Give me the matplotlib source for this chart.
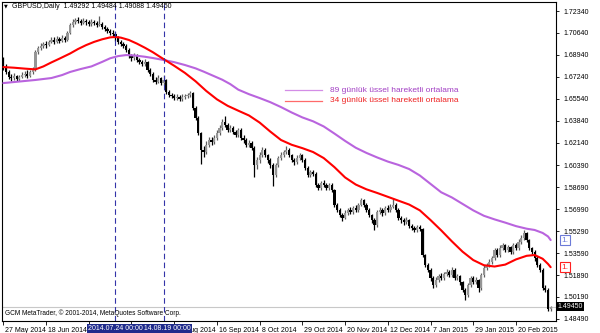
import numpy as np
import matplotlib
matplotlib.use('Agg')
import matplotlib.pyplot as plt
import matplotlib.transforms as mtransforms

plt.rcParams['font.family'] = ['Liberation Sans', 'DejaVu Sans']

# ---------- data ----------
symbol = 'GBPUSD,Daily'
header_quote = [1.49292, 1.49484, 1.49088, 1.49450]   # O H L C of last bar
first_open = 1.6815

close = [
    1.6800, 1.6761, 1.6722, 1.6715, 1.6730, 1.6707, 1.6722, 1.6738, 1.6746, 1.6730,
    1.6761, 1.6777, 1.6916, 1.6947, 1.6963, 1.6979, 1.6971, 1.6994, 1.7009, 1.6994,
    1.7017, 1.7002, 1.7025, 1.7009, 1.7064, 1.7126, 1.7149, 1.7164, 1.7157, 1.7141,
    1.7157, 1.7149, 1.7133, 1.7149, 1.7141, 1.7126, 1.7133, 1.7110, 1.7095, 1.7079,
    1.7064, 1.7056, 1.7025, 1.6994, 1.6979, 1.6963, 1.6932, 1.6885, 1.6870, 1.6893,
    1.6854, 1.6839, 1.6823, 1.6839, 1.6777, 1.6746, 1.6700, 1.6684, 1.6715, 1.6676,
    1.6700, 1.6607, 1.6583, 1.6576, 1.6560, 1.6568, 1.6552, 1.6568, 1.6576, 1.6583,
    1.6599, 1.6483, 1.6405, 1.6290, 1.6157, 1.6142, 1.6196, 1.6235, 1.6219, 1.6250,
    1.6289, 1.6328, 1.6374, 1.6351, 1.6312, 1.6328, 1.6297, 1.6274, 1.6312, 1.6250,
    1.6235, 1.6196, 1.6211, 1.6173, 1.6041, 1.6080, 1.6118, 1.6157, 1.6118, 1.6080,
    1.6041, 1.5963, 1.6041, 1.6095, 1.6118, 1.6142, 1.6157, 1.6118, 1.6080, 1.6064,
    1.6095, 1.6118, 1.6080, 1.6018, 1.5963, 1.5986, 1.5971, 1.5886, 1.5863, 1.5901,
    1.5886, 1.5863, 1.5886, 1.5847, 1.5731, 1.5692, 1.5654, 1.5630, 1.5669, 1.5692,
    1.5677, 1.5708, 1.5692, 1.5731, 1.5770, 1.5731, 1.5692, 1.5654, 1.5615, 1.5576,
    1.5677, 1.5692, 1.5669, 1.5708, 1.5692, 1.5716, 1.5731, 1.5692, 1.5630, 1.5615,
    1.5599, 1.5615, 1.5568, 1.5553, 1.5538, 1.5561, 1.5545, 1.5344, 1.5267, 1.5228,
    1.5166, 1.5111, 1.5150, 1.5181, 1.5166, 1.5197, 1.5212, 1.5189, 1.5228, 1.5166,
    1.5181, 1.5135, 1.5073, 1.5034, 1.5111, 1.5166, 1.5135, 1.5150, 1.5088, 1.5189,
    1.5243, 1.5267, 1.5290, 1.5321, 1.5383, 1.5344, 1.5398, 1.5421, 1.5383, 1.5406,
    1.5367, 1.5421, 1.5398, 1.5445, 1.5476, 1.5514, 1.5460, 1.5398, 1.5367, 1.5321,
    1.5267, 1.5228, 1.5088, 1.5073, 1.49292, 1.49450]

high = [
    1.6878, 1.6822, 1.6780, 1.6745, 1.6752, 1.6740, 1.6741, 1.6760, 1.6770, 1.6775,
    1.6780, 1.6800, 1.6930, 1.6965, 1.6985, 1.6995, 1.7000, 1.7012, 1.7035, 1.7030,
    1.7040, 1.7035, 1.7045, 1.7040, 1.7080, 1.7140, 1.7170, 1.7180, 1.7185, 1.7172,
    1.7180, 1.7175, 1.7165, 1.7170, 1.7168, 1.7155, 1.7192, 1.7150, 1.7125, 1.7110,
    1.7095, 1.7085, 1.7070, 1.7040, 1.7010, 1.6995, 1.6975, 1.6945, 1.6900, 1.6910,
    1.6905, 1.6870, 1.6855, 1.6860, 1.6850, 1.6790, 1.6760, 1.6720, 1.6735, 1.6725,
    1.6740, 1.6710, 1.6625, 1.6600, 1.6595, 1.6590, 1.6580, 1.6590, 1.6595, 1.6600,
    1.6615, 1.6605, 1.6495, 1.6420, 1.6300, 1.6190, 1.6225, 1.6255, 1.6260, 1.6275,
    1.6310, 1.6350, 1.6400, 1.6420, 1.6370, 1.6350, 1.6345, 1.6315, 1.6330, 1.6325,
    1.6270, 1.6250, 1.6235, 1.6225, 1.6185, 1.6100, 1.6140, 1.6180, 1.6170, 1.6130,
    1.6095, 1.6055, 1.6060, 1.6110, 1.6140, 1.6160, 1.6185, 1.6170, 1.6130, 1.6095,
    1.6115, 1.6135, 1.6130, 1.6095, 1.6030, 1.6005, 1.6000, 1.5985, 1.5900, 1.5920,
    1.5925, 1.5900, 1.5905, 1.5900, 1.5855, 1.5745, 1.5705, 1.5670, 1.5690, 1.5710,
    1.5715, 1.5725, 1.5730, 1.5750, 1.5785, 1.5780, 1.5745, 1.5705, 1.5665, 1.5630,
    1.5695, 1.5715, 1.5705, 1.5725, 1.5730, 1.5740, 1.5785, 1.5745, 1.5705, 1.5650,
    1.5630, 1.5635, 1.5625, 1.5585, 1.5570, 1.5580, 1.5575, 1.5555, 1.5355, 1.5280,
    1.5240, 1.5180, 1.5170, 1.5200, 1.5205, 1.5215, 1.5235, 1.5230, 1.5250, 1.5240,
    1.5200, 1.5190, 1.5145, 1.5090, 1.5130, 1.5185, 1.5180, 1.5170, 1.5160, 1.5205,
    1.5265, 1.5285, 1.5310, 1.5340, 1.5400, 1.5395, 1.5420, 1.5440, 1.5430, 1.5425,
    1.5415, 1.5440, 1.5435, 1.5465, 1.5500, 1.5540, 1.5525, 1.5470, 1.5410, 1.5380,
    1.5335, 1.5280, 1.5240, 1.5110, 1.5090, 1.49484]

low = [
    1.6777, 1.6745, 1.6705, 1.6695, 1.6700, 1.6690, 1.6693, 1.6712, 1.6725, 1.6718,
    1.6722, 1.6745, 1.6770, 1.6900, 1.6932, 1.6945, 1.6950, 1.6960, 1.6985, 1.6978,
    1.6985, 1.6990, 1.6992, 1.6995, 1.7000, 1.7055, 1.7110, 1.7135, 1.7140, 1.7125,
    1.7130, 1.7128, 1.7115, 1.7120, 1.7125, 1.7110, 1.7115, 1.7095, 1.7080, 1.7060,
    1.7045, 1.7035, 1.7005, 1.6980, 1.6960, 1.6945, 1.6915, 1.6870, 1.6850, 1.6855,
    1.6840, 1.6820, 1.6805, 1.6810, 1.6760, 1.6730, 1.6685, 1.6665, 1.6675, 1.6660,
    1.6660, 1.6592, 1.6570, 1.6560, 1.6545, 1.6545, 1.6535, 1.6540, 1.6555, 1.6560,
    1.6570, 1.6470, 1.6390, 1.6275, 1.6052, 1.6100, 1.6130, 1.6180, 1.6195, 1.6205,
    1.6235, 1.6270, 1.6310, 1.6335, 1.6295, 1.6300, 1.6280, 1.6255, 1.6260, 1.6235,
    1.6215, 1.6180, 1.6180, 1.6160, 1.5950, 1.6010, 1.6060, 1.6100, 1.6100, 1.6060,
    1.6020, 1.5875, 1.5945, 1.6025, 1.6080, 1.6100, 1.6125, 1.6100, 1.6065, 1.6040,
    1.6050, 1.6080, 1.6065, 1.6000, 1.5945, 1.5950, 1.5955, 1.5870, 1.5845, 1.5850,
    1.5870, 1.5845, 1.5850, 1.5830, 1.5715, 1.5675, 1.5640, 1.5610, 1.5620, 1.5655,
    1.5660, 1.5665, 1.5675, 1.5680, 1.5720, 1.5715, 1.5675, 1.5635, 1.5595, 1.5540,
    1.5565, 1.5660, 1.5650, 1.5655, 1.5675, 1.5680, 1.5705, 1.5675, 1.5615, 1.5595,
    1.5580, 1.5585, 1.5550, 1.5535, 1.5520, 1.5525, 1.5530, 1.5330, 1.5250, 1.5210,
    1.5145, 1.5090, 1.5095, 1.5135, 1.5150, 1.5150, 1.5180, 1.5175, 1.5175, 1.5150,
    1.5150, 1.5115, 1.5055, 1.4995, 1.5020, 1.5095, 1.5120, 1.5120, 1.5060, 1.5075,
    1.5175, 1.5225, 1.5250, 1.5275, 1.5305, 1.5325, 1.5330, 1.5380, 1.5365, 1.5370,
    1.5350, 1.5355, 1.5380, 1.5385, 1.5430, 1.5460, 1.5445, 1.5380, 1.5350, 1.5300,
    1.5250, 1.5210, 1.5070, 1.5055, 1.4910, 1.49088]

# moving averages as drawn on the chart (bar index, value)
ema34_bar = [0, 4, 8, 12, 15, 18, 21, 25, 28, 31, 34, 37, 40, 42, 44, 47, 50, 53, 56,
             59, 64, 68, 72, 76, 80, 84, 88, 92, 96, 100, 104, 108, 112, 116, 120, 124,
             128, 132, 136, 140, 144, 148, 152, 156, 160, 164, 168, 172, 176, 180, 184,
             188, 192, 196, 199, 202, 204, 205]
ema34_val = [1.6800, 1.6795, 1.6788, 1.6782, 1.6805, 1.6836, 1.6865, 1.6905, 1.6940,
             1.6970, 1.6995, 1.7015, 1.7030, 1.7033, 1.7028, 1.7010, 1.6982, 1.6950,
             1.6915, 1.6875, 1.6810, 1.6755, 1.6690, 1.6615, 1.6550, 1.6500, 1.6462,
             1.6425, 1.6370, 1.6300, 1.6235, 1.6198, 1.6172, 1.6142, 1.6095, 1.6025,
             1.5945, 1.5890, 1.5853, 1.5825, 1.5795, 1.5765, 1.5735, 1.5690, 1.5615,
             1.5535, 1.5450, 1.5370, 1.5305, 1.5265, 1.5255, 1.5270, 1.5310, 1.5338,
             1.5344, 1.5315, 1.5275, 1.5250]
ema89_bar = [0, 6, 12, 18, 22, 25, 29, 33, 37, 40, 43, 46, 49, 53, 56, 60, 64, 68, 72,
             75, 78, 82, 85, 88, 92, 96, 100, 104, 108, 112, 116, 120, 124, 128, 132,
             136, 140, 144, 148, 152, 156, 160, 164, 168, 172, 176, 180, 184, 188, 192,
             196, 199, 202, 204, 205]
ema89_val = [1.6676, 1.6688, 1.6700, 1.6715, 1.6738, 1.6762, 1.6785, 1.6805, 1.6840,
             1.6868, 1.6885, 1.6893, 1.6890, 1.6880, 1.6870, 1.6855, 1.6838, 1.6816,
             1.6790, 1.6765, 1.6738, 1.6702, 1.6668, 1.6625, 1.6590, 1.6560, 1.6528,
             1.6490, 1.6448, 1.6410, 1.6380, 1.6340, 1.6285, 1.6228, 1.6175, 1.6135,
             1.6100, 1.6068, 1.6042, 1.6010, 1.5960, 1.5895, 1.5830, 1.5790, 1.5740,
             1.5690, 1.5648, 1.5620, 1.5595, 1.5568, 1.5548, 1.5538, 1.5515, 1.5488,
             1.5460]

# date axis: a label every 16 bars; two of them lie under the highlighted labels
date_tick_bar = [0, 16, 32, 48, 64, 80, 96, 112, 128, 144, 160, 176, 192]
date_tick_label = ['27 May 2014', '18 Jun 2014', '', '', '25 Aug 2014', '16 Sep 2014',
                   '8 Oct 2014', '29 Oct 2014', '20 Nov 2014', '12 Dec 2014',
                   '7 Jan 2015', '29 Jan 2015', '20 Feb 2015']
vline_bar = [42, 60]
vline_label = ['2014.07.24 00:00', '2014.08.19 00:00']

price_ticks = [1.72340, 1.70640, 1.68940, 1.67240, 1.65540, 1.63840, 1.62140, 1.60390,
               1.58690, 1.56990, 1.55290, 1.53590, 1.51890, 1.50190, 1.48490]
legend_labels = ['89 günlük üssel hareketli ortalama', '34 günlük üssel hareketli ortalama']

# ---------- prepare ----------
close = np.array(close)
high = np.array(high)
low = np.array(low)
n = len(close)
opens = np.r_[first_open, close[:-1]]
x = np.arange(n)

# ---------- figure ----------
fig = plt.figure(figsize=(6, 3.33), dpi=100)
fig.patch.set_facecolor('white')
ax = fig.add_axes([2 / 600, 12 / 333, 554 / 600, 319 / 333])
ax.set_xlim(-0.5, 207.0)
ax.set_ylim(1.4833, 1.7304)

# bid line
ax.axhline(header_quote[3], color='#c8c8c8', lw=0.8, zorder=1)

# candles
up = close >= opens
body_lo = np.minimum(opens, close)
body_h = np.maximum(np.abs(close - opens), 0.00025)
ax.vlines(x[up], low[up], high[up], color='#5e5e5e', lw=0.9, zorder=2)
ax.vlines(x[~up], low[~up], high[~up], color='black', lw=0.9, zorder=2)
ax.bar(x[up], body_h[up], bottom=body_lo[up], width=0.85, color='#959595', lw=0, zorder=2)
ax.bar(x[~up], body_h[~up], bottom=body_lo[~up], width=0.85, color='black', lw=0, zorder=2)

# moving averages
ax.plot(ema89_bar, ema89_val, color='#b964de', lw=1.5, zorder=3,
        solid_joinstyle='round', solid_capstyle='round')
ax.plot(ema34_bar, ema34_val, color='#ff0000', lw=1.5, zorder=3,
        solid_joinstyle='round', solid_capstyle='round')

# vertical dashed lines
for xi in vline_bar:
    ax.axvline(xi, color='#3434a8', lw=0.8, ls=(0, (5, 3)), zorder=3)

# ---------- axes styling ----------
for sp in ax.spines.values():
    sp.set_color('black')
    sp.set_linewidth(0.8)

ax.yaxis.tick_right()
ax.set_yticks(price_ticks)
ax.set_yticklabels([f'{p:.5f}' for p in price_ticks])
ax.tick_params(axis='y', direction='out', length=2.5, width=0.6, pad=3, labelsize=5)

ax.set_xticks(date_tick_bar)
ax.set_xticklabels(date_tick_label)
ax.tick_params(axis='x', direction='out', length=3, width=0.6, pad=1.5, labelsize=5)
shift = mtransforms.ScaledTranslation(1.5 / 72, 0, fig.dpi_scale_trans)
for lab in ax.get_xticklabels():
    lab.set_horizontalalignment('left')
    lab.set_transform(lab.get_transform() + shift)

# highlighted date labels for the vertical lines (second first so first is on top)
xb = mtransforms.blended_transform_factory(ax.transData, ax.transAxes)
for k in [1, 0]:
    ax.text(vline_bar[k], -0.012, vline_label[k], transform=xb,
            ha='center', va='top', fontsize=5, color='white', zorder=6 - k,
            clip_on=False,
            bbox=dict(boxstyle='square,pad=0.15', fc='#1f2b8c', ec='none'))

# current price label
yb = mtransforms.blended_transform_factory(ax.transAxes, ax.transData)
ax.text(1.002, header_quote[3], f'{header_quote[3]:.5f}', transform=yb, ha='left',
        va='center', fontsize=5, color='white', zorder=6, clip_on=False,
        bbox=dict(boxstyle='square,pad=0.2', fc='black', ec='none'))

# MA value markers on the price scale
for val, col in [(ema89_val[-1], '#6c7ad8'), (ema34_val[-1], '#ff2020')]:
    ax.annotate('1.', xy=(1.0, val), xycoords=yb, xytext=(4, 0),
                textcoords='offset points', ha='left', va='center', fontsize=6,
                color=col, zorder=6, annotation_clip=False,
                bbox=dict(boxstyle='square,pad=0.2', fc='white', ec=col, lw=0.8))

# header and footer text
ax.text(0.004, 0.987, '▼', transform=ax.transAxes, fontsize=3.5, va='center',
        ha='left', color='black', family=['DejaVu Sans'])
ax.text(0.018, 0.987, f'{symbol}  ' + ' '.join(f'{v:.5f}' for v in header_quote),
        transform=ax.transAxes, fontsize=5, va='center', ha='left', color='black')
ax.text(0.0055, 0.025, 'GCM MetaTrader, © 2001-2014, MetaQuotes Software Corp.',
        transform=ax.transAxes, fontsize=4.7, va='center', ha='left', color='black')

# text legend
for (lab, lcol, tcol, yy) in [(legend_labels[0], '#d38de6', '#a23fc4', 0.724),
                              (legend_labels[1], '#ff6a6a', '#ee2222', 0.690)]:
    ax.plot([0.511, 0.578], [yy, yy], transform=ax.transAxes, color=lcol, lw=0.9,
            zorder=4)
    ax.text(0.592, yy, lab, transform=ax.transAxes, fontsize=6, color=tcol,
            va='center', ha='left', zorder=4)

fig.savefig('out.png', dpi=100)
